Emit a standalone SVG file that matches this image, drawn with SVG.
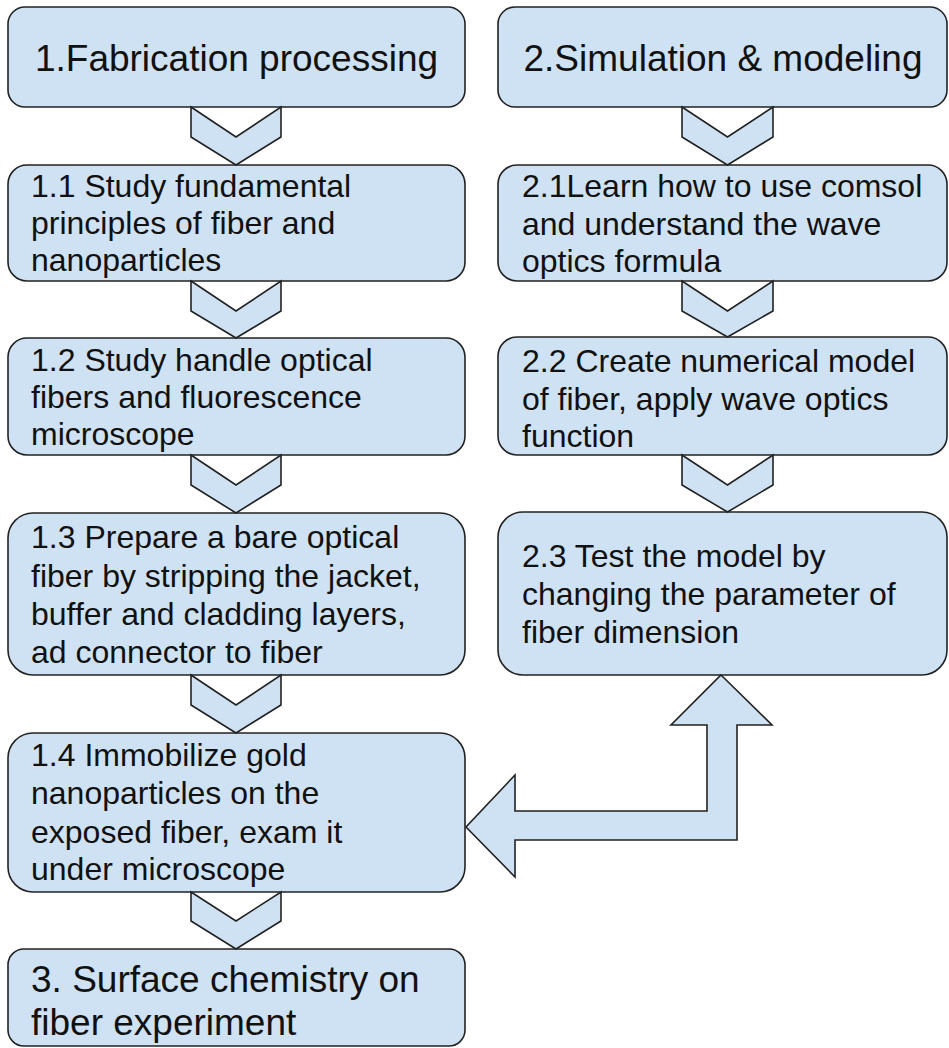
<svg xmlns="http://www.w3.org/2000/svg" width="949" height="1048" viewBox="0 0 949 1048">
<style>
.box{fill:#cfe2f3;stroke:#222;stroke-width:1.6}
.conn{fill:#cfe2f3;stroke:#222;stroke-width:1.6;stroke-linejoin:miter}
text{font-family:"Liberation Sans",Arial,sans-serif;fill:#111}
.t{font-size:37px}
.b{font-size:32px}
</style>
<rect width="949" height="1048" fill="#fff"/>
<g id="n1">
<rect class="box" x="8" y="7" width="457" height="100" rx="17"/>
<text class="t" x="236.5" y="71" text-anchor="middle">1.Fabrication processing</text>
</g>
<g id="n2">
<rect class="box" x="498" y="7" width="449" height="100" rx="17"/>
<text class="t" x="723" y="71" text-anchor="middle">2.Simulation &amp; modeling</text>
</g>
<g id="n1_1">
<rect class="box" x="8" y="165" width="457" height="116" rx="19"/>
<text class="b" x="31"><tspan x="31" y="197">1.1 Study fundamental</tspan><tspan x="31" y="234">principles of fiber and</tspan><tspan x="31" y="271">nanoparticles</tspan></text>
</g>
<g id="n1_2">
<rect class="box" x="8" y="338" width="457" height="117" rx="19"/>
<text class="b"><tspan x="31" y="371">1.2 Study handle optical</tspan><tspan x="31" y="408">fibers and fluorescence</tspan><tspan x="31" y="445">microscope</tspan></text>
</g>
<g id="n1_3">
<rect class="box" x="8" y="513" width="457" height="162" rx="25"/>
<text class="b"><tspan x="31" y="548">1.3 Prepare a bare optical</tspan><tspan x="31" y="587">fiber by stripping the jacket,</tspan><tspan x="31" y="625">buffer and cladding layers,</tspan><tspan x="31" y="663">ad connector to fiber</tspan></text>
</g>
<g id="n1_4">
<rect class="box" x="8" y="733" width="457" height="159" rx="25"/>
<text class="b"><tspan x="31" y="766">1.4 Immobilize gold</tspan><tspan x="31" y="804">nanoparticles on the</tspan><tspan x="31" y="843">exposed fiber, exam it</tspan><tspan x="31" y="880">under microscope</tspan></text>
</g>
<g id="n3">
<rect class="box" x="8" y="949" width="457" height="97" rx="16"/>
<text class="t"><tspan x="31" y="992">3. Surface chemistry on</tspan><tspan x="31" y="1035">fiber experiment</tspan></text>
</g>
<g id="n2_1">
<rect class="box" x="498" y="165" width="449" height="116" rx="19"/>
<text class="b"><tspan x="522" y="197">2.1Learn how to use comsol</tspan><tspan x="522" y="235">and understand the wave</tspan><tspan x="522" y="272">optics formula</tspan></text>
</g>
<g id="n2_2">
<rect class="box" x="498" y="337" width="449" height="118" rx="19"/>
<text class="b"><tspan x="522" y="372">2.2 Create numerical model</tspan><tspan x="522" y="410">of fiber, apply wave optics</tspan><tspan x="522" y="447">function</tspan></text>
</g>
<g id="n2_3">
<rect class="box" x="498" y="512" width="449" height="163" rx="25"/>
<text class="b"><tspan x="522" y="567">2.3 Test the model by</tspan><tspan x="522" y="605">changing the parameter of</tspan><tspan x="522" y="643">fiber dimension</tspan></text>
</g>
<g id="connectors">
<polygon class="conn" points="191,107 236,137 281,107 281,137 236,165 191,137"/>
<polygon class="conn" points="191,281 236,311 281,281 281,311 236,338 191,311"/>
<polygon class="conn" points="191,455 236,485 281,455 281,485 236,513 191,485"/>
<polygon class="conn" points="191,675 236,705 281,675 281,705 236,733 191,705"/>
<polygon class="conn" points="191,892 236,921 281,892 281,921 236,949 191,921"/>
<polygon class="conn" points="682,107 727.5,137 773,107 773,137 727.5,165 682,137"/>
<polygon class="conn" points="682,281 727.5,311 773,281 773,311 727.5,337 682,311"/>
<polygon class="conn" points="682,455 727.5,485 773,455 773,485 727.5,512 682,485"/>
<polygon class="conn" points="721,675 772,725 737,725 737,840 515,840 515,877 466,827 515,775 515,811 707,811 707,725 671,725"/>
</g>
</svg>
